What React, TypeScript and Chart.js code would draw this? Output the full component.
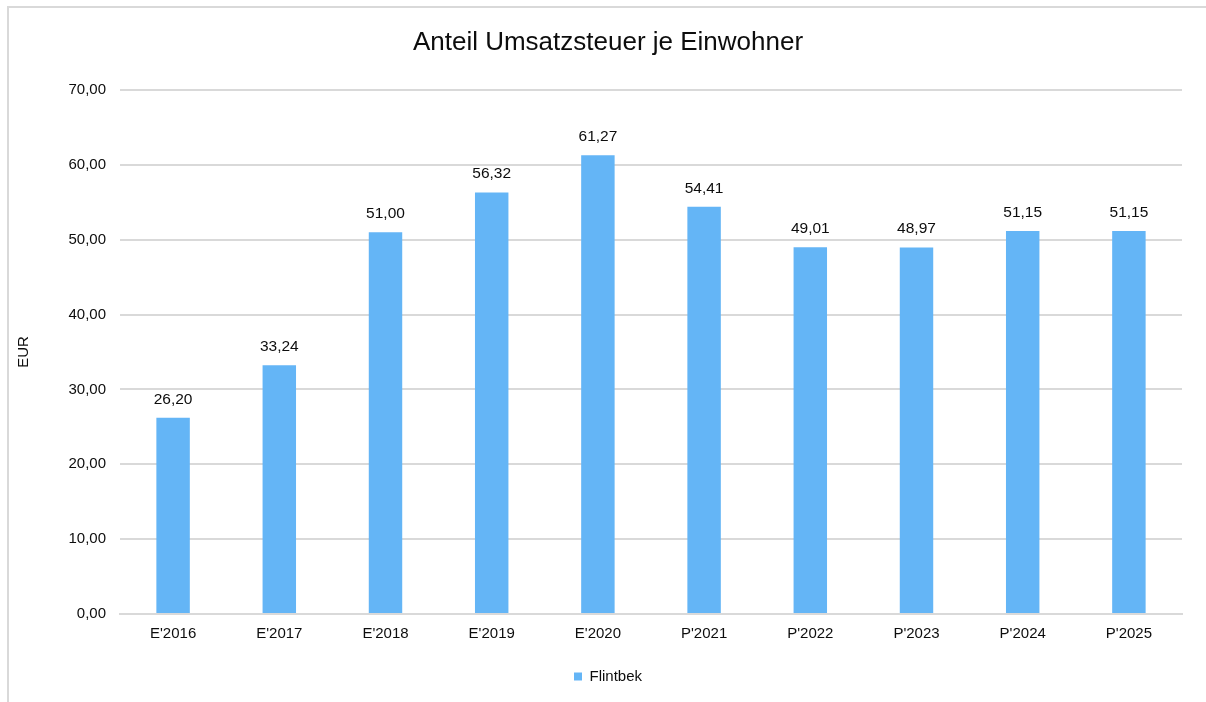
import React, { useEffect, useRef } from "react";
import { Chart, registerables } from "chart.js";

Chart.register(...registerables);

const categories = ["E'2016", "E'2017", "E'2018", "E'2019", "E'2020", "P'2021", "P'2022", "P'2023", "P'2024", "P'2025"];
const values = [26.2, 33.24, 51.0, 56.32, 61.27, 54.41, 49.01, 48.97, 51.15, 51.15];
const seriesName = "Flintbek";
const chartTitle = "Anteil Umsatzsteuer je Einwohner";
const yAxisTitle = "EUR";

const FONT = "'Liberation Sans', Arial, sans-serif";
const TEXT = "#0d0d0d";
const BAR = "#64B5F6";
const GRID = "#d9d9d9";

const fmt = (v: number) => v.toFixed(2).replace(".", ",");

const dataLabels = {
  id: "dataLabels",
  afterDatasetsDraw(chart: any) {
    const ctx = chart.ctx;
    ctx.save();
    ctx.font = `15.5px ${FONT}`;
    ctx.fillStyle = TEXT;
    ctx.textAlign = "center";
    ctx.textBaseline = "alphabetic";
    chart.data.datasets.forEach((ds: any, i: number) => {
      const meta = chart.getDatasetMeta(i);
      meta.data.forEach((el: any, j: number) => {
        ctx.fillText(fmt(ds.data[j]), el.x, el.y - 14);
      });
    });
    ctx.restore();
  },
};

export default function App() {
  const ref = useRef<HTMLCanvasElement | null>(null);
  useEffect(() => {
    if (!ref.current) return;
    const chart = new Chart(ref.current, {
      type: "bar",
      data: {
        labels: categories,
        datasets: [
          {
            label: seriesName,
            data: values,
            backgroundColor: BAR,
            borderWidth: 0,
            barPercentage: 0.63,
            categoryPercentage: 0.5,
          },
        ],
      },
      options: {
        responsive: false,
        animation: false,
        maintainAspectRatio: false,
        layout: { padding: { left: 34, right: 24, top: 0, bottom: 8 } },
        plugins: {
          title: {
            display: true,
            text: chartTitle,
            color: TEXT,
            font: { family: FONT, size: 26, weight: "normal" },
            padding: { top: 27.4, bottom: 31.4 },
          },
          legend: {
            display: true,
            position: "bottom",
            labels: {
              color: TEXT,
              font: { family: FONT, size: 15 },
              boxWidth: 8,
              boxHeight: 8,
              padding: 10,
            },
          },
          tooltip: { enabled: false },
        },
        scales: {
          x: {
            grid: { display: false },
            border: { display: true, color: GRID, width: 2 },
            ticks: { color: TEXT, font: { family: FONT, size: 15 }, padding: 3, maxRotation: 0 },
            afterFit: (s: any) => {
              s.height = 45;
            },
          },
          y: {
            min: 0,
            max: 70,
            ticks: {
              stepSize: 10,
              color: TEXT,
              font: { family: FONT, size: 15 },
              padding: 14,
              callback: (v: any) => fmt(Number(v)),
            },
            grid: { color: GRID, lineWidth: 2, drawTicks: false },
            border: { display: false },
            title: {
              display: true,
              text: yAxisTitle,
              color: TEXT,
              font: { family: FONT, size: 15 },
              padding: { top: -19, bottom: 0 },
            },
            afterFit: (s: any) => {
              s.width = 86;
            },
          },
        },
      },
      plugins: [dataLabels],
    });
    return () => chart.destroy();
  }, []);
  return (
    <>
      <div
        style={{
          position: "fixed",
          left: 7,
          top: 6,
          width: 1400,
          height: 900,
          border: `2px solid ${GRID}`,
          boxSizing: "border-box",
        }}
      />
      <div style={{ position: "fixed", left: 0, top: 0, width: 1206, height: 702 }}>
        <canvas ref={ref} width={1206} height={702} style={{ display: "block", width: 1206, height: 702 }} />
      </div>
    </>
  );
}
